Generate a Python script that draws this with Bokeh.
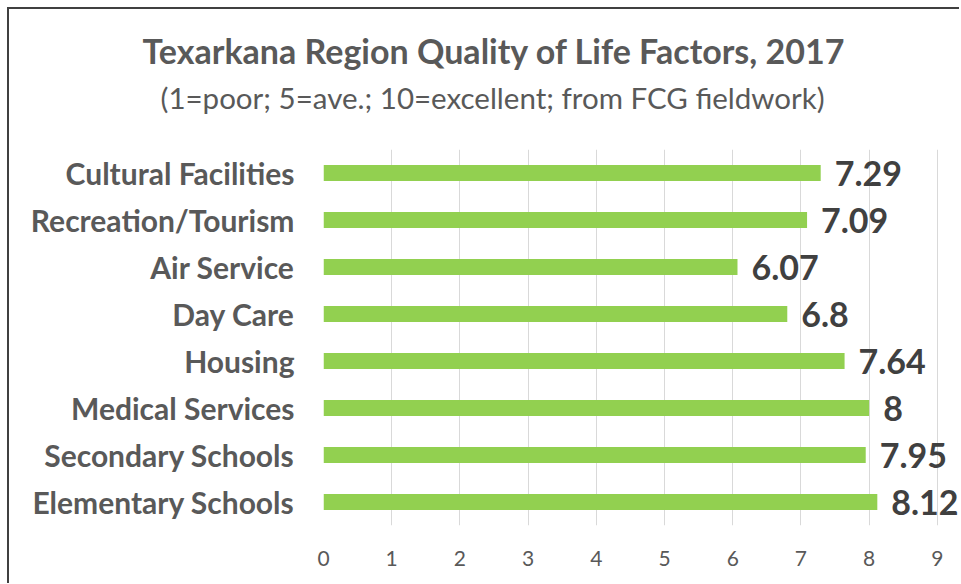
from bokeh.plotting import figure
from bokeh.models import ColumnDataSource, FactorRange, Range1d, LabelSet, Title, FixedTicker
from bokeh.core.properties import value
from bokeh.embed import file_html
from bokeh.resources import INLINE

# ---- data (top-to-bottom as displayed) ----
categories = ["Cultural Facilities", "Recreation/Tourism", "Air Service", "Day Care",
              "Housing", "Medical Services", "Secondary Schools", "Elementary Schools"]
scores = [7.29, 7.09, 6.07, 6.8, 7.64, 8, 7.95, 8.12]
score_labels = ["7.29", "7.09", "6.07", "6.8", "7.64", "8", "7.95", "8.12"]
x_ticks = [0, 1, 2, 3, 4, 5, 6, 7, 8, 9]
title_text = "Texarkana Region Quality of Life Factors, 2017"
subtitle_text = "(1=poor; 5=ave.; 10=excellent; from FCG fieldwork)"

FONT = "Lato"
source = ColumnDataSource(dict(cat=categories, val=scores, lab=score_labels))

p = figure(frame_width=636, frame_height=376, output_backend="svg", toolbar_location=None,
           y_range=FactorRange(factors=list(reversed(categories))),
           x_range=Range1d(0, 9.325),
           min_border_left=314, min_border_right=0, min_border_top=140, min_border_bottom=58,
           title=title_text,
           styles={"border-left": "2px solid #404040", "border-top": "2px solid #404040",
                   "margin-left": "7px", "margin-top": "7px"})
p.outline_line_color = None
p.background_fill_color = "white"
p.border_fill_color = "white"

# spacer between frame and subtitle
spacer = Title(text=" ", text_font_size="1px", standoff=27)
p.add_layout(spacer, "above")

sub = Title(text=subtitle_text, align="left", offset=-163, text_font=FONT,
            text_font_style="normal", text_font_size="29.5px", text_color="#595959",
            standoff=10)
p.add_layout(sub, "above")

p.title.align = "left"
p.title.offset = -181
p.title.text_font = FONT
p.title.text_font_style = "bold"
p.title.text_font_size = "34px"
p.title.text_color = "#595959"
p.title.standoff = 4

p.hbar(y="cat", right="val", left=0, height=0.34, source=source,
       fill_color="#92d050", line_color=None)

labels = LabelSet(x="val", y="cat", text="lab", source=source, x_offset=14, y_offset=0,
                  text_baseline="middle", text_align="left", text_font=value(FONT),
                  text_font_style="bold", text_font_size="34px", text_color="#404040")
p.add_layout(labels)

# x axis
p.xaxis.ticker = FixedTicker(ticks=x_ticks)
p.xaxis.axis_line_color = None
p.xaxis.major_tick_line_color = None
p.xaxis.minor_tick_line_color = None
p.xaxis.major_label_text_font = FONT
p.xaxis.major_label_text_font_size = "21px"
p.xaxis.major_label_text_color = "#595959"
p.xaxis.major_label_standoff = 19
p.xgrid.grid_line_color = "#d9d9d9"
p.xgrid.grid_line_width = 1

# y axis
p.yaxis.axis_line_color = None
p.yaxis.major_tick_line_color = None
p.yaxis.minor_tick_line_color = None
p.yaxis.major_label_text_font = FONT
p.yaxis.major_label_text_font_style = "bold"
p.yaxis.major_label_text_font_size = "30px"
p.yaxis.major_label_text_color = "#595959"
p.yaxis.major_label_standoff = 23
p.ygrid.grid_line_color = None

open("out.html", "w").write(file_html(p, INLINE))
